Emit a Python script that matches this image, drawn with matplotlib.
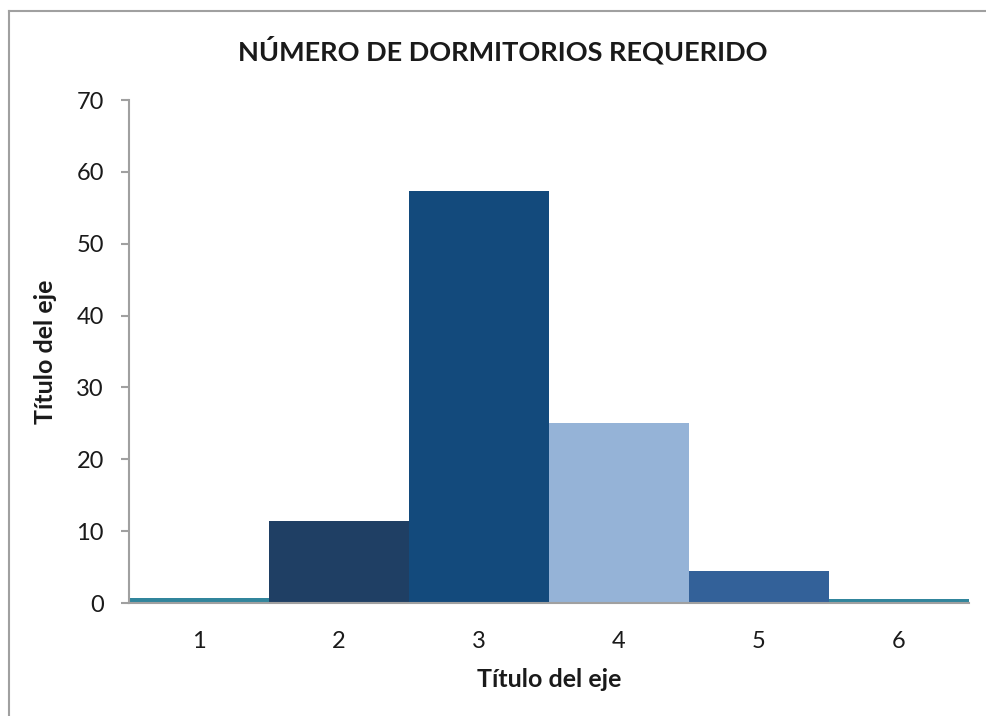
import matplotlib
matplotlib.use("Agg")
import matplotlib.pyplot as plt
from matplotlib.lines import Line2D

categories = ["1", "2", "3", "4", "5", "6"]
values = [0.7, 11.4, 57.4, 25.0, 4.45, 0.55]
colors = ["#31859C", "#1F3F64", "#134A7C", "#95B3D7", "#336199", "#31859C"]
y_ticks = [0, 10, 20, 30, 40, 50, 60, 70]

title = "NÚMERO DE DORMITORIOS REQUERIDO"
x_label = "Título del eje"
y_label = "Título del eje"

plt.rcParams["font.family"] = ["Lato", "DejaVu Sans"]

fig = plt.figure(figsize=(9.86, 7.16), dpi=100)
fig.patch.set_facecolor("white")

# outer chart frame (left and top edges)
fx, fy = 8.5 / 986, 1 - 10.5 / 716
fig.add_artist(Line2D([fx, fx], [0, fy], transform=fig.transFigure,
                      color="#A0A0A0", linewidth=1.5))
fig.add_artist(Line2D([fx, 1], [fy, fy], transform=fig.transFigure,
                      color="#A0A0A0", linewidth=1.5))

ax = fig.add_axes([129 / 986, 1 - 603 / 716, 840 / 986, 503 / 716])
x = list(range(1, len(categories) + 1))
ax.bar(x, values, width=1.0, color=colors, zorder=2)

ax.set_xlim(0.5, 6.5)
ax.set_ylim(0, 70)
ax.set_yticks(y_ticks)
ax.set_xticks(x)
ax.set_xticklabels(categories)

for s in ["top", "right"]:
    ax.spines[s].set_visible(False)
for s in ["left", "bottom"]:
    ax.spines[s].set_color("#A0A0A0")
    ax.spines[s].set_linewidth(1.5)
ax.spines["bottom"].set_zorder(3)

ax.tick_params(axis="y", length=6, width=1.5, color="#A0A0A0",
               labelsize=17, labelcolor="#1a1a1a", pad=12)
ax.tick_params(axis="x", length=0, labelsize=17, labelcolor="#1a1a1a", pad=20)

ax.set_xlabel(x_label, fontsize=18, fontweight="bold", color="#1a1a1a", labelpad=12)
ax.set_ylabel(y_label, fontsize=18, fontweight="bold", color="#1a1a1a", labelpad=14)

fig.text(503 / 986, 1 - 50 / 716, title, ha="center", va="center",
         fontsize=19.5, fontweight="bold", color="#1a1a1a")

fig.savefig("out.png", dpi=100)
